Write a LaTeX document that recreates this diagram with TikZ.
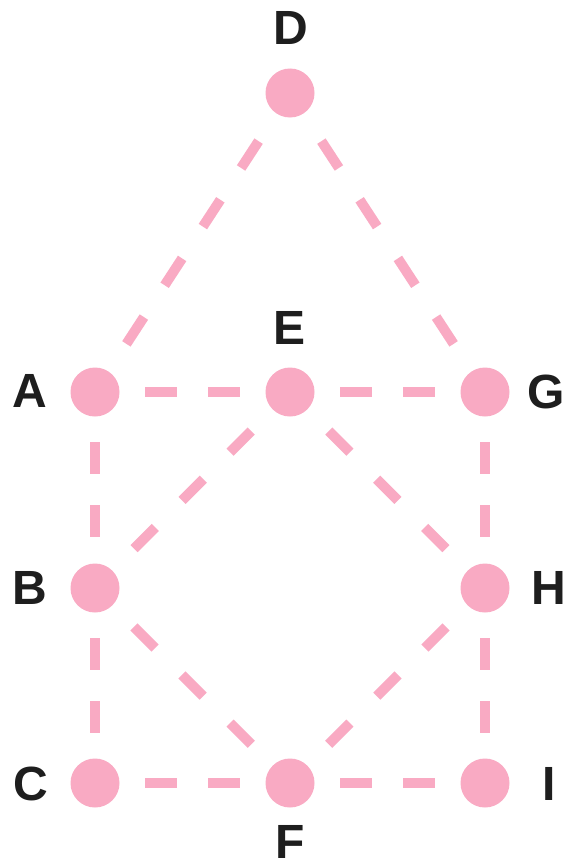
\documentclass[tikz,border=0pt]{standalone}
\usepackage{fontspec}
\setmainfont{Liberation Sans}
\definecolor{pinkc}{HTML}{F9AAC3}
\definecolor{labc}{HTML}{1E1E1E}
\begin{document}
\begin{tikzpicture}[x=1pt,y=-1pt,
  dot/.style={circle,fill=pinkc,draw=none,minimum size=49pt,inner sep=0pt,outer sep=0pt},
  lab/.style={inner sep=0pt,outer sep=0pt,text=labc,font=\fontsize{48}{48}\selectfont\bfseries},
  shortedge/.style={draw=pinkc,line width=10pt,dash pattern=on 32pt off 31pt,dash phase=37.5pt},
  diagedge/.style={draw=pinkc,line width=10pt,dash pattern=on 30pt off 38pt,dash phase=37.5pt},
  longedge/.style={draw=pinkc,line width=10pt,dash pattern=on 32pt off 38pt,dash phase=37pt}]
\useasboundingbox (0,0) rectangle (566,867);
\fill[white] (0,0) rectangle (566,867);
% nodes
\node[dot] (D) at (290,93) {};
\node[dot] (A) at (95,392) {};
\node[dot] (E) at (290,392) {};
\node[dot] (G) at (485,392) {};
\node[dot] (B) at (95,588) {};
\node[dot] (H) at (485,588) {};
\node[dot] (C) at (95,783) {};
\node[dot] (F) at (290,783) {};
\node[dot] (I) at (485,783) {};
% labels
\node[lab] (lD) at (291,28) {D};
\node[lab] (lA) at (30,391) {A};
\node[lab] (lE) at (290,328) {E};
\node[lab] (lG) at (546,392) {G};
\node[lab] (lB) at (30,588) {B};
\node[lab] (lH) at (549,588) {H};
\node[lab] (lC) at (31,784) {C};
\node[lab] (lI) at (549,784) {I};
\node[lab] (lF) at (290,842) {F};
% edges
\draw[longedge] (D) -- (A);
\draw[longedge] (D) -- (G);
\draw[shortedge] (A) -- (E);
\draw[shortedge] (E) -- (G);
\draw[shortedge] (C) -- (F);
\draw[shortedge] (F) -- (I);
\draw[shortedge] (A) -- (B);
\draw[shortedge] (B) -- (C);
\draw[shortedge] (G) -- (H);
\draw[shortedge] (H) -- (I);
\draw[diagedge] (E) -- (B);
\draw[diagedge] (E) -- (H);
\draw[diagedge] (B) -- (F);
\draw[diagedge] (H) -- (F);
\end{tikzpicture}
\end{document}
